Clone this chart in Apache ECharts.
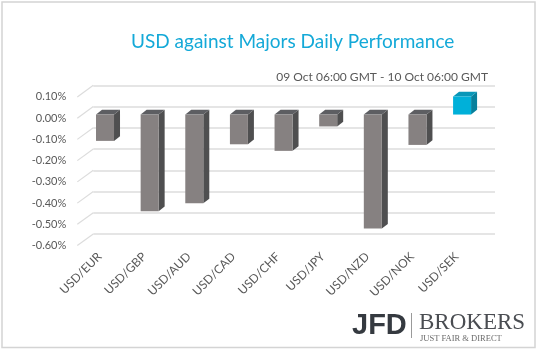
<!DOCTYPE html>
<html>
<head>
<meta charset="utf-8">
<script src="https://cdn.jsdelivr.net/npm/echarts@6/dist/echarts.min.js"></script>
<style>
  html, body { margin: 0; padding: 0; background: #fff; }
  #chart { width: 538px; height: 351px; }
</style>
</head>
<body>
<div id="chart"></div>
<script>
const pairs = ["USD/EUR", "USD/GBP", "USD/AUD", "USD/CAD", "USD/CHF", "USD/JPY", "USD/NZD", "USD/NOK", "USD/SEK"];
const changes = [-0.124, -0.455, -0.418, -0.14, -0.171, -0.056, -0.537, -0.143, 0.085];
const yTicks = [0.1, 0, -0.1, -0.2, -0.3, -0.4, -0.5, -0.6];

// 3d look: bar front face sits a bit in front of the back wall
const shiftX = -10.6, shiftY = 8;
const depthX = 6, depthY = -4.7;
const halfW = 9;

function barItem(params, api) {
  const i = api.value(0);
  const v = api.value(1);
  const p0 = api.coord([i, 0]);
  const p1 = api.coord([i, v]);
  const cx = p0[0] + shiftX;
  const yTop = Math.min(p0[1], p1[1]) + shiftY;
  const yBot = Math.max(p0[1], p1[1]) + shiftY;
  const up = v > 0;
  const front = up ? "#00b0d9" : "#868181";
  const top = up ? "#0897b8" : "#5d5e62";
  const side = up ? "#07809c" : "#4f4f50";
  return {
    type: "group",
    children: [
      {
        type: "polygon",
        shape: { points: [[cx + halfW, yTop], [cx + halfW + depthX, yTop + depthY], [cx + halfW + depthX, yBot + depthY], [cx + halfW, yBot]] },
        style: { fill: side }
      },
      {
        type: "polygon",
        shape: { points: [[cx - halfW, yTop], [cx + halfW, yTop], [cx + halfW + depthX, yTop + depthY], [cx - halfW + depthX, yTop + depthY]] },
        style: { fill: top }
      },
      {
        type: "rect",
        shape: { x: cx - halfW, y: yTop, width: halfW * 2, height: yBot - yTop },
        style: { fill: front }
      }
    ]
  };
}

// side wall lines joining the front labels to the back wall gridlines
function wallItem(params, api) {
  const v = api.value(0);
  const y = api.coord([0, v])[1];
  const x = params.coordSys.x;
  return {
    type: "line",
    shape: { x1: x, y1: y, x2: x - 16, y2: y + 11.6 },
    style: { stroke: "#dcdcdc", lineWidth: 1.2 }
  };
}

const chart = echarts.init(document.getElementById("chart"));
chart.setOption({
  backgroundColor: "#fff",
  animation: false,
  title: [
    {
      text: "USD against Majors Daily Performance",
      left: 126,
      top: 27,
      textStyle: { color: "#14a9d8", fontSize: 19, fontWeight: "normal", fontFamily: "Lato" }
    },
    {
      text: "09 Oct 06:00 GMT - 10 Oct 06:00 GMT",
      right: 45,
      top: 66,
      textStyle: { color: "#595959", fontSize: 12, fontWeight: "normal", fontFamily: "Lato" }
    }
  ],
  grid: [
    { left: 93.3, right: 43, top: 85.3, height: 148.7 },
    { left: 77.3, right: 59, top: 96.9, height: 148.7 }
  ],
  xAxis: [
    {
      gridIndex: 0, type: "category", data: pairs,
      axisLine: { show: false }, axisTick: { show: false }, axisLabel: { show: false }
    },
    {
      gridIndex: 1, type: "category", data: pairs,
      axisLine: { show: false }, axisTick: { show: false },
      axisLabel: { rotate: 45, margin: 9, color: "#595959", fontSize: 12, fontFamily: "Lato" }
    }
  ],
  yAxis: [
    {
      gridIndex: 0, type: "value", min: -0.6, max: 0.1, interval: 0.1,
      axisLine: { show: false }, axisTick: { show: false }, axisLabel: { show: false },
      splitLine: { lineStyle: { color: "#dcdcdc", width: 1.6 } }
    },
    {
      gridIndex: 1, type: "value", min: -0.6, max: 0.1, interval: 0.1,
      axisLine: { show: false }, axisTick: { show: false }, splitLine: { show: false },
      axisLabel: {
        margin: 11, color: "#595959", fontSize: 11, fontFamily: "Lato",
        formatter: (v) => v.toFixed(2) + "%"
      }
    }
  ],
  series: [
    {
      type: "custom",
      xAxisIndex: 0, yAxisIndex: 0,
      renderItem: wallItem,
      data: yTicks.map((v) => [v]),
      encode: { y: 0 },
      silent: true
    },
    {
      type: "custom",
      xAxisIndex: 0, yAxisIndex: 0,
      renderItem: barItem,
      data: changes.map((v, i) => [i, v]),
      encode: { x: 0, y: 1 }
    }
  ],
  graphic: [
    {
      type: "rect",
      shape: { x: 2, y: 2, width: 533, height: 345.5 },
      style: { fill: "none", stroke: "#d4d4d4", lineWidth: 1.5 },
      silent: true
    },
    {
      type: "text", left: 352, top: 311,
      style: { text: "JFD", fill: "#353a40", font: "bold 29px 'Liberation Sans'" }
    },
    {
      type: "rect",
      shape: { x: 411, y: 313, width: 1, height: 25 },
      style: { fill: "#9a9a9a" }
    },
    {
      type: "text", left: 419, top: 311,
      style: { text: "BROKERS", fill: "#4a4d52", font: "23px 'Liberation Serif'" }
    },
    {
      type: "text", left: 420, top: 334,
      style: { text: "JUST FAIR & DIRECT", fill: "#6b6b6b", font: "8.5px 'Liberation Serif'" }
    }
  ]
});
</script>
</body>
</html>
